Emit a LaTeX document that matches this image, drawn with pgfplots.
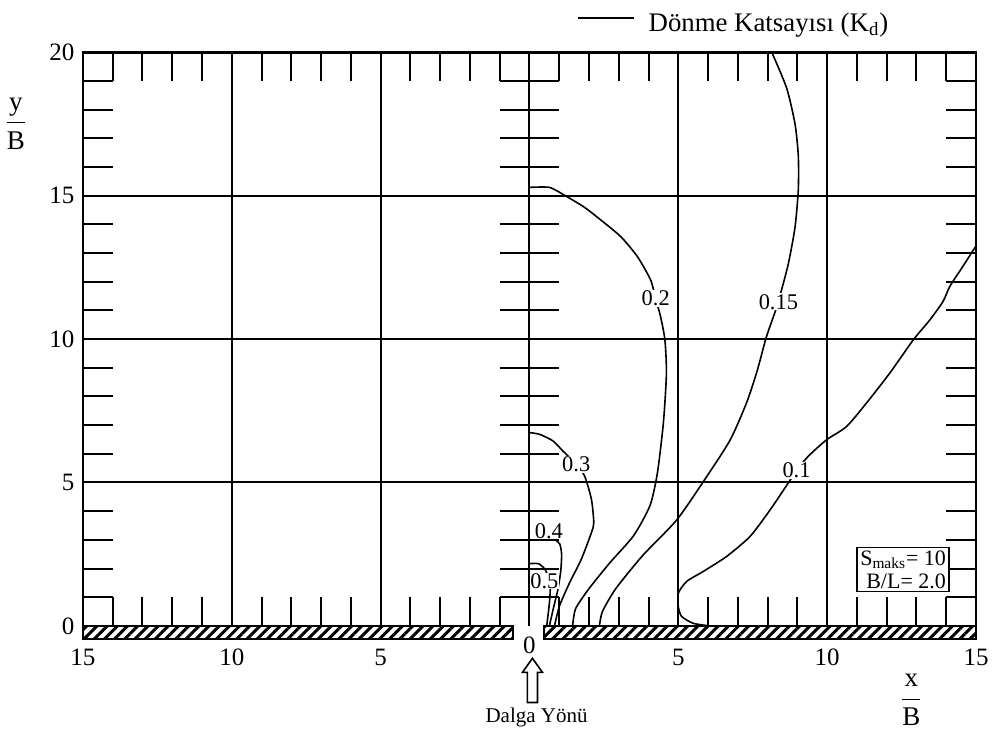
\documentclass[border=0pt]{standalone}
\usepackage{pgfplots}
\pgfplotsset{compat=1.18}
\usepackage{fontspec}
\setmainfont{Liberation Serif}
\usetikzlibrary{patterns.meta}
\begin{document}
\begin{tikzpicture}
\begin{axis}[
  scale only axis, width=446.5pt, height=293.2pt,
  xmin=-15, xmax=15, ymin=-0.45, ymax=20,
  clip=false,
  axis line style={draw=none},
  major tick length=0pt,
  tick style={draw=none},
  xtick={-15,-10,-5,5,10,15},
  xticklabels={15,10,5,5,10,15},
  extra x ticks={0}, extra x tick labels={0},
  extra x tick style={xticklabel style={yshift=6pt}},
  ytick={0,5,10,15,20},
  tick label style={font=\fontsize{12.5}{14}\selectfont},
  /pgf/number format/assume math mode=true,
  xticklabel style={yshift=-1.5pt},
  yticklabel style={xshift=-0.7pt},
]
% frame
\draw[line width=1.2pt] (axis cs:-15,0) -- (axis cs:-15,20) -- (axis cs:15,20) -- (axis cs:15,0);
% grid
\pgfplotsinvokeforeach{-10,-5,0,5,10}{\draw[line width=1pt] (axis cs:#1,0) -- (axis cs:#1,20);}
\pgfplotsinvokeforeach{5,10,15}{\draw[line width=1pt] (axis cs:-15,#1) -- (axis cs:15,#1);}
% side and centre ticks
\pgfplotsinvokeforeach{1,...,19}{
  \draw[line width=1pt] (axis cs:-15,#1) -- (axis cs:-14,#1);
  \draw[line width=1pt] (axis cs:14,#1) -- (axis cs:15,#1);
  \draw[line width=1pt] (axis cs:-1,#1) -- (axis cs:1,#1);
}
% top and bottom ticks
\pgfplotsinvokeforeach{-14,...,-1}{
  \draw[line width=1pt] (axis cs:#1,20) -- (axis cs:#1,19);
  \draw[line width=1pt] (axis cs:#1,0) -- (axis cs:#1,1);
}
\pgfplotsinvokeforeach{1,...,14}{
  \draw[line width=1pt] (axis cs:#1,20) -- (axis cs:#1,19);
  \draw[line width=1pt] (axis cs:#1,0) -- (axis cs:#1,1);
}
% breakwater
\draw[line width=1pt, pattern={Lines[angle=45,distance=3.6pt,line width=1.5pt]}] (axis cs:-15,-0.45) rectangle (axis cs:-0.55,0);
\draw[line width=1pt, pattern={Lines[angle=45,distance=3.6pt,line width=1.5pt]}] (axis cs:0.5,-0.45) rectangle (axis cs:15,0);

% contour lines
\addplot[black, line width=0.8pt, smooth, tension=0.4] coordinates {
(6.05,0) (5.5,0.09) (5.11,0.33) (5.0,0.67) (5.0,1.14) (5.28,1.55) (5.84,1.9) (6.62,2.42) (7.41,3.12) (8.08,4.04) (8.69,4.98) (8.97,5.42) (9.36,5.91) (9.98,6.49) (10.65,6.95) (11.32,7.77) (12.1,8.81) (12.89,9.97) (13.45,10.67) (13.89,11.31) (14.12,11.84) (14.56,12.54) (15.0,13.25)};
\addplot[black, line width=0.8pt, smooth, tension=0.4] coordinates {
(2.35,0) (2.45,0.5) (2.9,1.3) (3.8,2.45) (4.95,3.7) (5.95,5.2) (6.75,6.5) (7.3,7.8) (7.65,8.9) (7.95,10.05) (8.25,10.95) (8.45,11.65) (8.7,12.65) (8.92,13.9) (9.03,15.2) (9.03,16.4) (8.92,17.5) (8.64,18.75) (8.14,20)};
\addplot[black, line width=0.8pt, smooth, tension=0.4] coordinates {
(1.45,0) (1.55,0.6) (2.0,1.3) (2.7,2.2) (3.5,3.15) (4.05,4.2) (4.3,5.35) (4.5,7.1) (4.6,8.8) (4.55,9.97) (4.4,10.8) (4.24,11.4) (4.07,12.06) (3.63,12.87) (3.07,13.57) (2.4,14.15) (1.84,14.6) (1.17,15.02) (0.67,15.29) (0,15.29)};
\addplot[black, line width=0.8pt, smooth, tension=0.4] coordinates {
(0,6.74) (0.34,6.68) (0.79,6.45) (1.12,6.1) (1.57,5.64) (1.85,5.23) (2.08,4.42) (2.16,3.6) (2.08,3.25) (1.74,2.32) (1.35,1.51) (1.01,0.7) (0.84,0)};
\addplot[black, line width=0.8pt, smooth, tension=0.4] coordinates {
(0.9,2.97) (1.02,2.85) (1.08,2.5) (1.05,1.9) (0.95,1.25) (0.8,0.6) (0.67,0)};
\addplot[black, line width=0.8pt, smooth, tension=0.4] coordinates {
(0,2.17) (0.3,2.17) (0.5,2.0) (0.62,1.75) (0.7,1.4) (0.67,0.8) (0.58,0)};

% contour labels
\pgfplotsset{every contour label/.style={}}
\node[fill=white, inner sep=0.4pt, font=\fontsize{11.2}{13}\selectfont] at (axis cs:8.97,5.42) {0.1};
\node[fill=white, inner sep=0.4pt, font=\fontsize{11.2}{13}\selectfont] at (axis cs:8.36,11.3) {0.15};
\node[fill=white, inner sep=0.4pt, font=\fontsize{11.2}{13}\selectfont] at (axis cs:4.24,11.42) {0.2};
\node[fill=white, inner sep=0.4pt, font=\fontsize{11.2}{13}\selectfont] at (axis cs:1.57,5.64) {0.3};
\node[inner sep=0.4pt, font=\fontsize{11.2}{13}\selectfont] at (axis cs:0.65,3.3) {0.4};
\node[fill=white, inner sep=0.2pt, font=\fontsize{11.2}{13}\selectfont] at (axis cs:0.5,1.55) {0.5};

% parameter box
\node[draw, line width=0.8pt, fill=white, inner sep=1.5pt, align=right, font=\fontsize{11}{11.5}\selectfont] at (axis cs:12.55,1.97) {S\textsubscript{maks}= 10\\B/L= 2.0};

% legend
\draw[line width=0.8pt] (axis cs:1.63,21.2) -- (axis cs:3.51,21.2);
\node[anchor=base west, inner sep=0pt, font=\fontsize{13.4}{15}\selectfont] at (axis cs:3.99,20.72) {Dönme Katsayısı (K\textsubscript{d})};

% axis titles
\node[font=\fontsize{13.5}{15}\selectfont] at (axis cs:-17.25,17.5) {$\displaystyle\frac{\hbox{y}}{\hbox{B}}$};
\node[font=\fontsize{13.5}{15}\selectfont] at (axis cs:12.83,-2.59) {$\displaystyle\frac{\hbox{x}}{\hbox{B}}$};

% wave direction arrow
\draw[line width=0.8pt] (axis cs:0.1,-1.13) -- (axis cs:0.436,-1.62) -- (axis cs:0.27,-1.62) -- (axis cs:0.27,-2.67) -- (axis cs:-0.07,-2.67) -- (axis cs:-0.07,-1.62) -- (axis cs:-0.236,-1.62) -- cycle;
\node[font=\fontsize{10.5}{12}\selectfont] at (axis cs:0.24,-3.19) {Dalga Yönü};

\coordinate (bbSW) at (axis cs:-17.785,-3.743);
\coordinate (bbNE) at (axis cs:15.57,21.824);
\end{axis}
\pgfresetboundingbox
\useasboundingbox (bbSW) rectangle (bbNE);
\end{tikzpicture}
\end{document}
